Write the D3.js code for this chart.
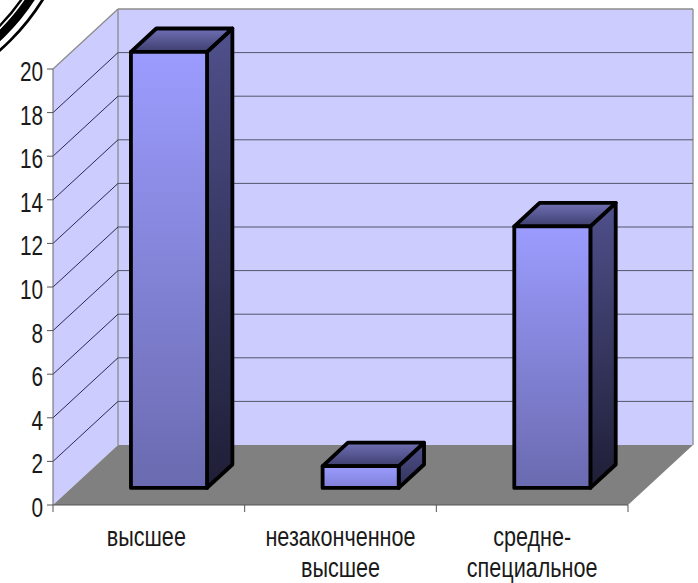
<!DOCTYPE html>
<html><head><meta charset="utf-8">
<script src="https://cdn.jsdelivr.net/npm/d3@7"></script>
<style>html,body{margin:0;padding:0;background:#fff;overflow:hidden}svg{display:block}
text{font-family:"Liberation Sans",sans-serif;fill:#1a1a1a}</style></head>
<body><svg id="c" width="698" height="583"></svg>
<script>
const categories = [["высшее"],["незаконченное","высшее"],["средне-","специальное"]];
const values = [20,1,12];
const yTicks = [0,2,4,6,8,10,12,14,16,18,20];
const svg = d3.select("#c");
const x = d3.scaleLinear().domain([0,3]).range([53,628]);
const y = d3.scaleLinear().domain([0,20]).range([505,69]);
const dzX = d3.scaleLinear().domain([0,1]).range([0,65]);
const dzY = d3.scaleLinear().domain([0,1]).range([0,-60]);
const P = (c,v,z)=>[x(c)+dzX(z), y(v)+dzY(z)];
const poly = pts => "M"+pts.map(p=>p.join(",")).join("L")+"Z";
const defs = svg.append("defs");
function grad(id,a,b){const g=defs.append("linearGradient").attr("id",id).attr("x1",0).attr("y1",0).attr("x2",0).attr("y2",1);
 g.append("stop").attr("offset",0).attr("stop-color",a);g.append("stop").attr("offset",1).attr("stop-color",b);}
grad("front","#9c9cff","#6a6ab0");
grad("frontS","#9c9cff","#7f7fd8");
grad("side","#50508c","#1e1e36");
grad("sideS","#50508c","#32325a");
grad("top","#7070b6","#3e3e6e");
// decorative rings cut by the top-left corner
[[226.8,2.8],[216,8.5],[209,2.5]].forEach(([r,w])=>{
 svg.append("circle").attr("cx",-150).attr("cy",-120).attr("r",r).attr("fill","none").attr("stroke","#000").attr("stroke-width",w);
});
// walls
svg.append("path").attr("d",poly([P(0,0,0),P(0,20,0),P(0,20,1),P(0,0,1)])).attr("fill","#ccccff");
svg.append("path").attr("d",poly([P(0,0,1),P(0,20,1),P(3,20,1),P(3,0,1)])).attr("fill","#ccccff");
svg.append("path").attr("d",poly([P(0,0,0),P(3,0,0),P(3,0,1),P(0,0,1)])).attr("fill","#808080");
const edge=(a,b,c="#8c8c8c",w=1.3)=>svg.append("line").attr("x1",a[0]).attr("y1",a[1]).attr("x2",b[0]).attr("y2",b[1]).attr("stroke",c).attr("stroke-width",w);
edge(P(0,20,0),P(0,20,1));edge(P(0,20,1),P(3,20,1));edge(P(3,20,1),P(3,0,1));edge(P(0,20,1),P(0,0,1));
// gridlines
yTicks.filter(t=>t>0&&t<20).forEach(t=>{
 edge(P(0,t,0),P(0,t,1),"#2a2a50",1);
 edge(P(0,t,1),P(3,t,1),"#55556a",1);
});
edge(P(0,20,0),P(0,0,0),"#666",1);
edge(P(0,0,0),P(3,0,0),"#555",1.2);
// text with horizontal condensing
const label=(tx,ty,size,sx,anchor,s)=>svg.append("text").attr("transform",`translate(${tx},${ty}) scale(${sx},1)`).attr("text-anchor",anchor).attr("font-size",size).text(s);
yTicks.forEach(t=>{
 edge([x(0)-6,y(t)],[x(0),y(t)],"#555",1);
 label(x(0)-10,y(t)+12,27,0.77,"end",t);
});
d3.range(4).forEach(i=>edge([x(i),y(0)],[x(i),y(0)+7],"#555",1));
categories.forEach((lines,i)=>lines.forEach((s,j)=>{
 label(x(i+0.5)-(i===0&&j===0?2.5:0),545.5+j*31,27,0.8,"middle",s);
}));
// bars
const z0=0.285,z1=0.675,a0=0.31,b0=0.707;
values.forEach((v,i)=>{
 const a=i+a0,b=i+b0,g=svg.append("g").attr("stroke","#000").attr("stroke-width",3.8).attr("stroke-linejoin","round");
 const s=v<5?"S":"";
 g.append("path").attr("d",poly([P(b,0,z0),P(b,v,z0),P(b,v,z1),P(b,0,z1)])).attr("fill",`url(#side${s})`);
 g.append("path").attr("d",poly([P(a,v,z0),P(b,v,z0),P(b,v,z1),P(a,v,z1)])).attr("fill","url(#top)");
 g.append("path").attr("d",poly([P(a,0,z0),P(b,0,z0),P(b,v,z0),P(a,v,z0)])).attr("fill",`url(#front${s})`);
});
</script></body></html>
